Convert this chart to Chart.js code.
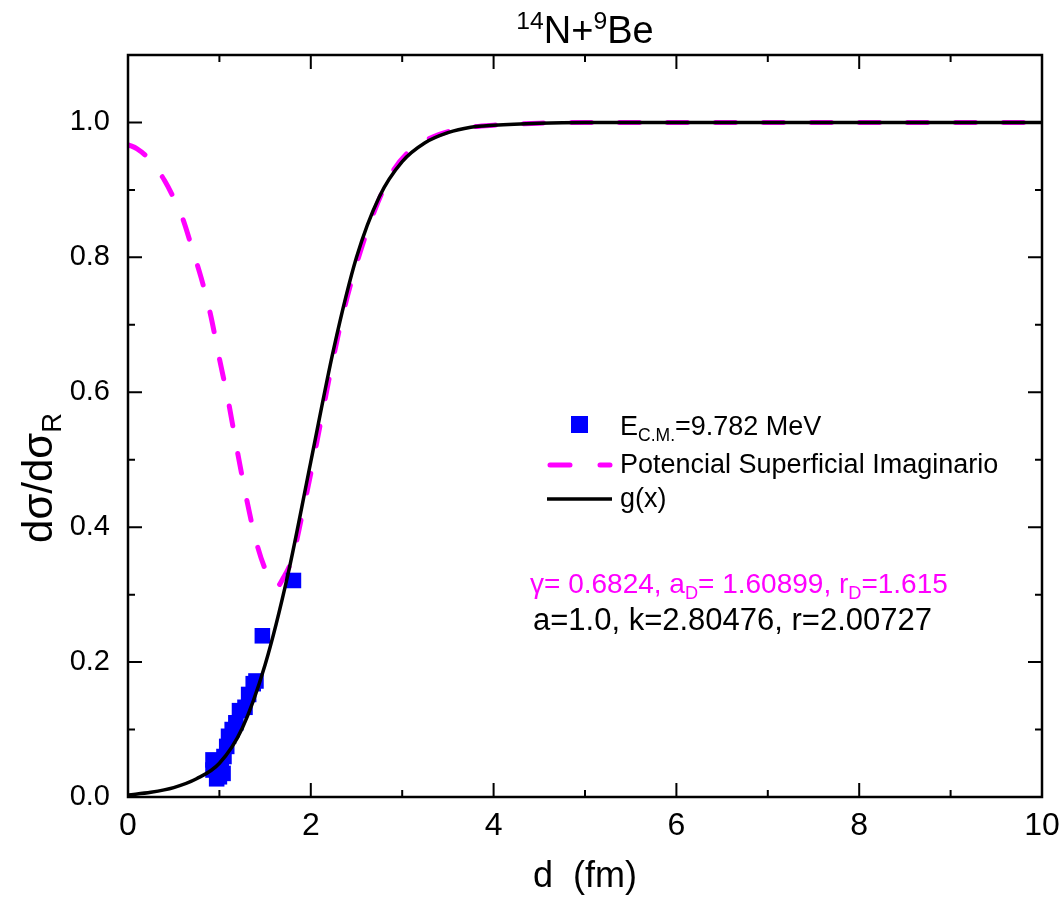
<!DOCTYPE html>
<html>
<head>
<meta charset="utf-8">
<title>14N+9Be</title>
<script src="https://cdn.jsdelivr.net/npm/chart.js@4.4.1/dist/chart.umd.min.js"></script>
<style>
  body { margin: 0; background: #fff; }
</style>
</head>
<body>
<canvas id="chart" width="1062" height="907"></canvas>
<script>
// tick positions
const xTicks = [0, 2, 4, 6, 8, 10]
const xMinor = [1, 3, 5, 7, 9]
const yTicks = [0, 0.2, 0.4, 0.6, 0.8, 1.0]
const yMinor = [0.1, 0.3, 0.5, 0.7, 0.9]

// experimental points, E_CM = 9.782 MeV
const expX = [0.93, 0.93, 0.97, 1.00, 1.02, 1.04, 1.05, 1.08, 1.10, 1.14, 1.18, 1.22, 1.28, 1.32, 1.37, 1.40, 1.47, 1.81]
const expY = [0.055, 0.040, 0.027, 0.030, 0.045, 0.035, 0.060, 0.075, 0.090, 0.100, 0.110, 0.128, 0.133, 0.152, 0.168, 0.172, 0.239, 0.321]

// potencial superficial imaginario (dashed)
const potX = [0, 0.1, 0.2, 0.3, 0.4, 0.5, 0.6, 0.7, 0.8, 0.9, 1.0, 1.1, 1.2, 1.3, 1.4, 1.5, 1.58, 1.63, 1.7, 1.8, 1.9, 2.0, 2.1, 2.2, 2.35, 2.5, 2.7, 2.9, 3.1, 3.4, 3.7, 4.0, 4.5, 5, 6, 7, 8, 9, 10]
const potY = [0.967, 0.961, 0.950, 0.934, 0.914, 0.888, 0.857, 0.814, 0.770, 0.717, 0.650, 0.585, 0.510, 0.440, 0.380, 0.338, 0.318, 0.312, 0.325, 0.355, 0.415, 0.480, 0.550, 0.620, 0.715, 0.790, 0.870, 0.928, 0.960, 0.982, 0.992, 0.996, 0.999, 1, 1, 1, 1, 1, 1]

// g(x)
const fitX = [0, 0.25, 0.5, 0.75, 1, 1.25, 1.5, 1.75, 2, 2.25, 2.5, 2.75, 3, 3.25, 3.5, 3.75, 4, 4.5, 5, 6, 7, 8, 9, 10]
const fitY = [0.003, 0.007, 0.014, 0.027, 0.050, 0.102, 0.196, 0.330, 0.497, 0.664, 0.800, 0.890, 0.942, 0.970, 0.985, 0.993, 0.996, 0.999, 1, 1, 1, 1, 1, 1]

const FONT = "'Liberation Sans', Arial, sans-serif"
const BLUE = '#0000ff'
const MAGENTA = '#ff00ff'

function pts(xs, ys){
    return xs.map((x, i) => ({x: x, y: ys[i]}))
}

// text with sub/superscripts: parts = [[text, ''|'sub'|'sup'], ...]
function richWidth(c, parts, size){
    let w = 0
    parts.forEach(p => {
        c.font = (p[1] ? size * 0.65 : size) + 'px ' + FONT
        w += c.measureText(p[0]).width
    })
    return w
}

function richText(c, parts, x, y, size, color, align){
    if (align === 'center') x -= richWidth(c, parts, size) / 2
    c.fillStyle = color
    c.textAlign = 'left'
    c.textBaseline = 'alphabetic'
    parts.forEach(p => {
        let s = size, dy = 0
        if (p[1] === 'sub') { s = size * 0.65; dy = size * 0.22 }
        if (p[1] === 'sup') { s = size * 0.65; dy = -size * 0.38 }
        c.font = s + 'px ' + FONT
        c.fillText(p[0], x, y + dy)
        x += c.measureText(p[0]).width
    })
}

const framePlugin = {
    id: 'frame',
    afterDatasetsDraw(chart){
        const c = chart.ctx
        const a = chart.chartArea
        const xs = chart.scales.x
        const ys = chart.scales.y
        c.save()
        c.strokeStyle = '#000'
        c.lineWidth = 2.5
        c.strokeRect(a.left, a.top, a.right - a.left, a.bottom - a.top)

        c.lineWidth = 2
        c.beginPath()
        const tx = (v, len) => {
            const px = xs.getPixelForValue(v)
            c.moveTo(px, a.bottom); c.lineTo(px, a.bottom - len)
            c.moveTo(px, a.top); c.lineTo(px, a.top + len)
        }
        const ty = (v, len) => {
            const py = ys.getPixelForValue(v)
            c.moveTo(a.left, py); c.lineTo(a.left + len, py)
            c.moveTo(a.right, py); c.lineTo(a.right - len, py)
        }
        xTicks.forEach(v => tx(v, 14))
        xMinor.forEach(v => tx(v, 7))
        yTicks.forEach(v => ty(v, 14))
        yMinor.forEach(v => ty(v, 7))
        c.stroke()
        c.restore()
    },
    afterDraw(chart){
        const c = chart.ctx
        const a = chart.chartArea
        const cx = (a.left + a.right) / 2
        c.save()

        // title
        richText(c, [['14', 'sup'], ['N', ''], ['+', ''], ['9', 'sup'], ['Be', '']], cx, 43, 38, '#000', 'center')

        // axis titles
        richText(c, [['d  (fm)', '']], cx, 887, 36, '#000', 'center')
        c.save()
        c.translate(52, 478)
        c.rotate(-Math.PI / 2)
        richText(c, [['dσ/dσ', ''], ['R', 'sub']], 0, 0, 42, '#000', 'center')
        c.restore()

        // legend
        c.fillStyle = BLUE
        c.fillRect(571, 416, 17, 17)
        c.lineCap = 'round'
        c.strokeStyle = MAGENTA
        c.lineWidth = 5
        c.setLineDash([20, 30])
        c.beginPath(); c.moveTo(550, 465); c.lineTo(610, 465); c.stroke()
        c.setLineDash([])
        c.lineCap = 'butt'
        c.strokeStyle = '#000'
        c.lineWidth = 3.5
        c.beginPath(); c.moveTo(547, 499); c.lineTo(612, 499); c.stroke()

        richText(c, [['E', ''], ['C.M.', 'sub'], ['=9.782 MeV', '']], 620, 435, 27, '#000')
        richText(c, [['Potencial Superficial Imaginario', '']], 620, 473, 27, '#000')
        richText(c, [['g(x)', '']], 620, 507, 27, '#000')

        // fit parameters
        richText(c, [['γ= 0.6824, a', ''], ['D', 'sub'], ['= 1.60899, r', ''], ['D', 'sub'], ['=1.615', '']], 530, 593, 28, MAGENTA)
        richText(c, [['a=1.0, k=2.80476, r=2.00727', '']], 533, 630, 31, '#000')
        c.restore()
    }
}

const ctx = document.getElementById('chart').getContext('2d')
const chart = new Chart(ctx, {
    type: 'scatter',
    data: {
        datasets: [{
            type: 'line',
            label: 'g(x)',
            data: pts(fitX, fitY),
            borderColor: '#000',
            borderWidth: 3.5,
            pointRadius: 0,
            fill: false,
            cubicInterpolationMode: 'monotone',
            order: 0
        }, {
            label: 'E C.M.=9.782 MeV',
            data: pts(expX, expY),
            pointStyle: 'rect',
            pointRadius: 11,
            backgroundColor: BLUE,
            borderColor: BLUE,
            borderWidth: 0,
            order: 1
        }, {
            type: 'line',
            label: 'Potencial Superficial Imaginario',
            data: pts(potX, potY),
            borderColor: MAGENTA,
            borderWidth: 5,
            borderDash: [20, 28],
            borderCapStyle: 'round',
            pointRadius: 0,
            fill: false,
            cubicInterpolationMode: 'monotone',
            order: 2
        }]
    },
    options: {
        responsive: false,
        animation: false,
        events: [],
        layout: { padding: { top: 55, right: 20, left: 0, bottom: 0 } },
        plugins: {
            legend: { display: false },
            tooltip: { enabled: false }
        },
        scales: {
            x: {
                type: 'linear',
                min: 0,
                max: 10,
                afterBuildTicks: s => { s.ticks = xTicks.map(v => ({value: v})) },
                afterFit: s => { s.height = 110; s.paddingLeft = 0; s.paddingRight = 0 },
                grid: { display: false, drawTicks: false },
                border: { display: false },
                ticks: {
                    color: '#000',
                    padding: 10,
                    font: { family: FONT, size: 32 },
                    callback: v => String(v)
                }
            },
            y: {
                type: 'linear',
                min: 0,
                max: 1.1,
                afterBuildTicks: s => { s.ticks = yTicks.map(v => ({value: v})) },
                afterFit: s => { s.width = 128; s.paddingTop = 0; s.paddingBottom = 0 },
                grid: { display: false, drawTicks: false },
                border: { display: false },
                ticks: {
                    color: '#000',
                    padding: 18,
                    font: { family: FONT, size: 29 },
                    callback: v => v.toFixed(1)
                }
            }
        }
    },
    plugins: [framePlugin]
})
</script>
</body>
</html>
